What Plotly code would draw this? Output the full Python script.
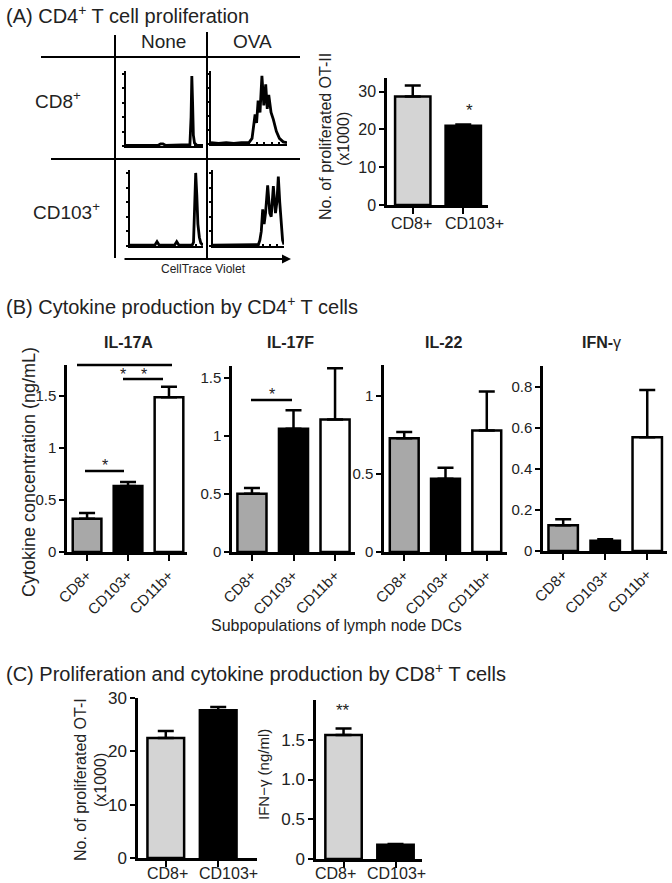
import plotly.graph_objects as go

W, H = 672, 883
FONT = "Liberation Sans, Arial, sans-serif"
TXT = "#222222"

# ---------------- DATA ----------------
# Panel A histograms (CellTrace Violet, normalized channel 0-100 / % of max)
hist_cd8_none_x = [0, 5, 15, 25, 35, 42, 45, 48, 51, 55, 62, 66, 69, 72, 75, 80, 83, 84.5, 85.5, 86.5, 87.5, 89, 92, 96, 100]
hist_cd8_none_y = [1, 1, 1, 1, 1, 1, 3, 3, 1, 1, 1, 1, 2, 1, 1, 1, 2, 40, 97, 60, 15, 4, 1, 1, 1]
hist_cd8_ova_x = [0, 10, 20, 30, 40, 50, 54, 56, 58, 60, 62, 64.5, 67, 69.5, 72, 74, 76, 79, 82, 86, 90, 95, 100]
hist_cd8_ova_y = [2, 1, 2, 1, 2, 2, 8, 25, 42, 30, 62, 45, 97, 55, 85, 50, 70, 45, 35, 18, 8, 3, 2]
hist_cd103_none_x = [0, 10, 20, 30, 34, 37, 40, 45, 55, 61, 64, 67, 72, 80, 85, 87, 88.5, 90, 91.5, 93, 95, 97, 100]
hist_cd103_none_y = [1, 1, 1, 1, 1, 6, 1, 1, 1, 1, 6, 1, 1, 1, 1, 5, 60, 100, 70, 30, 12, 4, 1]
hist_cd103_ova_x = [0, 10, 20, 30, 40, 50, 60, 64, 66, 68, 70, 72, 74, 77, 80, 82, 85, 88, 90, 92, 94, 96, 98, 100]
hist_cd103_ova_y = [1, 1, 1, 1, 1, 1, 1, 2, 8, 20, 50, 30, 45, 83, 45, 40, 82, 45, 60, 95, 60, 25, 8, 2]

# Panel A bar: proliferated OT-II (x1000)
a_cats = ["CD8+", "CD103+"]
a_vals = [28.7, 21.0]
a_errs = [2.9, 0.3]

# Panel B cytokines
b_cats = ["CD8+", "CD103+", "CD11b+"]
il17a_vals = [0.32, 0.635, 1.49]
il17a_errs = [0.055, 0.04, 0.10]
il17f_vals = [0.50, 1.06, 1.14]
il17f_errs = [0.05, 0.16, 0.44]
il22_vals = [0.73, 0.47, 0.78]
il22_errs = [0.04, 0.07, 0.25]
ifng_vals = [0.125, 0.05, 0.553]
ifng_errs = [0.03, 0.007, 0.23]

# Panel C
c_cats = ["CD8+", "CD103+"]
c_prolif_vals = [22.5, 27.7]
c_prolif_errs = [1.3, 0.6]
c_ifng_vals = [1.56, 0.18]
c_ifng_errs = [0.08, 0.01]

GRAY_AC = "#d4d4d4"
GRAY_B = "#a8a8a8"


def fx(p):
    return p / W


def fy(p):
    return 1 - p / H


fig = go.Figure()
layout = dict(
    template="none",
    width=W, height=H, margin=dict(l=0, r=0, t=0, b=0, pad=0, autoexpand=False),
    paper_bgcolor="white", plot_bgcolor="white", showlegend=False,
    font=dict(family=FONT, color=TXT, size=15),
)
shapes = []
annotations = []
n_ax = [0]


def new_axes(x0, x1, y0, y1, xkw, ykw):
    n_ax[0] += 1
    i = n_ax[0]
    sx = "" if i == 1 else str(i)
    layout["xaxis" + sx] = dict(domain=[fx(x0), fx(x1)], anchor="y" + sx, showgrid=False,
                                zeroline=False, automargin=False, **xkw)
    layout["yaxis" + sx] = dict(domain=[fy(y1), fy(y0)], anchor="x" + sx, showgrid=False,
                                zeroline=False, automargin=False, **ykw)
    return "x" + sx, "y" + sx


def hist_axes(x0, x1, y0, y1, xs, ys):
    xa, ya = new_axes(
        x0, x1, y0, y1,
        dict(range=[0, 100], showline=True, linewidth=2, linecolor="black",
             ticks="inside", ticklen=2, tickwidth=1.5, tickcolor="black", dtick=10,
             showticklabels=False),
        dict(range=[0, 104], showline=True, linewidth=2, linecolor="black",
             ticks="outside", ticklen=2, tickwidth=1.5, tickcolor="black", dtick=20,
             showticklabels=False),
    )
    fig.add_trace(go.Scatter(x=xs, y=ys, mode="lines", line=dict(color="black", width=2.8),
                             xaxis=xa, yaxis=ya, hoverinfo="skip"))


hist_axes(126, 203, 71, 146, hist_cd8_none_x, hist_cd8_none_y)
hist_axes(211, 287, 71, 144, hist_cd8_ova_x, hist_cd8_ova_y)
hist_axes(130, 203, 170, 246, hist_cd103_none_x, hist_cd103_none_y)
hist_axes(213, 284, 170, 246, hist_cd103_ova_x, hist_cd103_ova_y)


def bar_axes(x0, x1, y0, y1, cats, vals, errs, colors, xr, yr, tickvals, ticktext,
             tickangle=0, tickfont=15, ytickfont=15, show_xlabels=True):
    xa, ya = new_axes(
        x0, x1, y0, y1,
        dict(type="category", range=xr, showline=True, linewidth=2.5, linecolor="black",
             ticks="outside", ticklen=6, tickwidth=2, tickcolor="black",
             tickangle=tickangle, tickfont=dict(size=tickfont, color=TXT),
             showticklabels=show_xlabels),
        dict(range=yr, showline=True, linewidth=2.5, linecolor="black",
             ticks="outside", ticklen=5, tickwidth=2, tickcolor="black",
             tickvals=tickvals, ticktext=ticktext, tickfont=dict(size=ytickfont, color=TXT)),
    )
    fig.add_trace(go.Bar(
        x=cats, y=vals, width=0.7, xaxis=xa, yaxis=ya,
        marker=dict(color=colors, line=dict(color="black", width=2.5)),
        error_y=dict(type="data", symmetric=False, array=errs, arrayminus=[0] * len(errs),
                     color="black", thickness=2.5, width=8),
        hoverinfo="skip",
    ))


def line(x0, y0, x1, y1, w=2.5):
    shapes.append(dict(type="line", xref="paper", yref="paper", x0=fx(x0), y0=fy(y0),
                       x1=fx(x1), y1=fy(y1), line=dict(color="black", width=w)))


def text(x, y, s, size=15, angle=0, xanchor="center", color=TXT):
    annotations.append(dict(x=fx(x), y=fy(y), xref="paper", yref="paper", text=s,
                            showarrow=False, xanchor=xanchor, yanchor="middle",
                            textangle=angle, font=dict(size=size, family=FONT, color=color)))


# Panel A bar
bar_axes(387, 488, 78, 205, a_cats, a_vals, a_errs, [GRAY_AC, "black"],
         [-0.51, 1.49], [0, 33.6], [0, 10, 20, 30], ["0", "10", "20", "30"],
         ytickfont=16, show_xlabels=False)
for cx, lab in zip([411, 474], a_cats):
    text(cx, 224, lab, 16)

# Panel B
b_colors = [GRAY_B, "black", "white"]
bar_axes(67, 187, 365, 552, b_cats, il17a_vals, il17a_errs, b_colors,
         [-0.49, 2.44], [0, 1.8], [0, 0.5, 1, 1.5], ["0", "0.5", "1", "1.5"], tickangle=-45)
bar_axes(232, 355, 366, 552, b_cats, il17f_vals, il17f_errs, b_colors,
         [-0.48, 2.48], [0, 1.6], [0, 0.5, 1, 1.5], ["0", "0.5", "1", "1.5"], tickangle=-45)
bar_axes(384, 507, 365, 552, b_cats, il22_vals, il22_errs, b_colors,
         [-0.49, 2.49], [0, 1.2], [0, 0.5, 1], ["0", "0.5", "1"], tickangle=-45)
bar_axes(543, 667, 366, 551, b_cats, ifng_vals, ifng_errs, b_colors,
         [-0.48, 2.47], [0, 0.9], [0, 0.2, 0.4, 0.6, 0.8], ["0", "0.2", "0.4", "0.6", "0.8"],
         tickangle=-45)

# Panel C
bar_axes(138, 257, 698, 858, c_cats, c_prolif_vals, c_prolif_errs, [GRAY_AC, "black"],
         [-0.53, 1.74], [0, 30], [0, 10, 20, 30], ["0", "10", "20", "30"],
         ytickfont=17, show_xlabels=False)
for cx, lab in zip([167, 228], c_cats):
    text(cx, 873, lab, 16)
bar_axes(316, 422, 700, 859, c_cats, c_ifng_vals, c_ifng_errs, [GRAY_AC, "black"],
         [-0.53, 1.51], [0, 2.0], [0, 0.5, 1.0, 1.5], ["0", "0.5", "1.0", "1.5"],
         ytickfont=17, show_xlabels=False)
for cx, lab in zip([335, 396], c_cats):
    text(cx, 873, lab, 16)

# Panel A grid
line(115, 35, 115, 258, 2)
line(207, 32, 207, 260, 2)
line(41, 57, 300, 57, 2)
line(51, 159, 300, 159, 2)
text(163, 42, "None", 19)
text(252, 42, "OVA", 19)
text(58, 100, "CD8<sup>+</sup>", 19)
text(66, 211, "CD103<sup>+</sup>", 19)
annotations.append(dict(x=fx(291), y=fy(259), xref="paper", yref="paper", ax=-168, ay=0,
                        axref="pixel", ayref="pixel", text="", showarrow=True, arrowhead=2,
                        arrowsize=1, arrowwidth=1.8, arrowcolor="black"))
text(203, 269, "CellTrace Violet", 12)

# Titles
text(4, 15, "(A) CD4<sup>+</sup> T cell proliferation", 20, xanchor="left")
text(4, 305, "(B) Cytokine production by CD4<sup>+</sup> T cells", 20, xanchor="left")
text(4, 672, "(C) Proliferation and cytokine production by CD8<sup>+</sup> T cells", 20,
     xanchor="left")

# Panel A bar labels
text(325, 137, "No. of proliferated OT-II", 16, angle=-90)
text(343, 139, "(x1000)", 16, angle=-90)
text(469, 110, "*", 17)

# Panel B labels
text(128, 343, "<b>IL-17A</b>", 16)
text(290, 343, "<b>IL-17F</b>", 16)
text(443, 343, "<b>IL-22</b>", 16)
text(601, 343, "<b>IFN-</b>γ", 16)
text(29, 472, "Cytokine concentration (ng/mL)", 18, angle=-90)
text(336, 625, "Subpopulations of lymph node DCs", 16)

# significance (IL-17A)
line(77, 365, 172, 365)
line(123, 379, 163, 379)
text(123, 375, "*", 16)
text(144, 375, "*", 16)
line(85, 471, 124, 471)
text(105, 465, "*", 16)
# IL-17F
line(251, 400, 292, 400)
text(272, 394, "*", 16)

# Panel C labels
text(80, 780, "No. of proliferated OT-I", 16, angle=-90)
text(100, 780, "(x1000)", 16, angle=-90)
text(263, 775, "IFN−γ (ng/ml)", 15, angle=-90)
text(343, 710, "**", 17)

layout["shapes"] = shapes
layout["annotations"] = annotations
fig.update_layout(**layout)
fig.write_html("out.html", config={"displayModeBar": False},
               post_script="document.body.style.margin='0';document.body.style.overflow='hidden';")
